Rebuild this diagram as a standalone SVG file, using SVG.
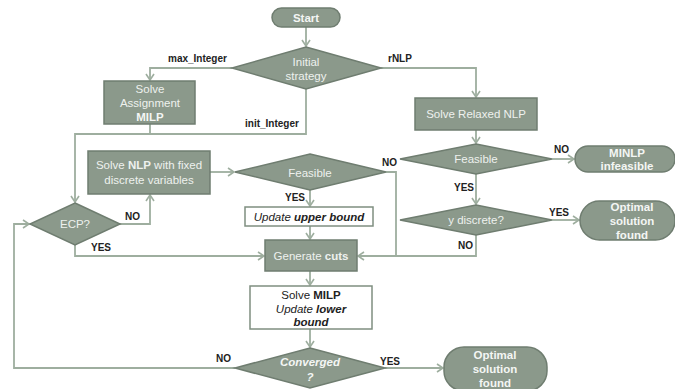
<svg xmlns="http://www.w3.org/2000/svg" width="675" height="389" viewBox="0 0 675 389">
<defs>
<style>
.n{fill:#8b998b;stroke:#6f7d70;stroke-width:1.5}
.w{fill:#ffffff;stroke:#7f8e80;stroke-width:1.5}
.c{fill:none;stroke:#9eae9f;stroke-width:1.8}
.t{font-family:"Liberation Sans",Arial,sans-serif;font-size:11.5px;fill:#eef1ee;text-anchor:middle}
.tb{font-family:"Liberation Sans",Arial,sans-serif;font-size:11.5px;fill:#f4f6f4;text-anchor:middle;font-weight:bold}
.k{font-family:"Liberation Sans",Arial,sans-serif;font-size:11.5px;fill:#222;text-anchor:middle}
.l{font-family:"Liberation Sans",Arial,sans-serif;font-size:10px;fill:#222;font-weight:bold}
</style>
<marker id="a" markerWidth="10" markerHeight="10" refX="8" refY="5" orient="auto" markerUnits="userSpaceOnUse">
<polyline points="2,1 8,5 2,9" fill="none" stroke="#9eae9f" stroke-width="1.6"/>
</marker>
</defs>
<g id="connectors">
<path class="c" d="M306,27 V46" marker-end="url(#a)"/>
<path class="c" d="M232,68 H150 V80" marker-end="url(#a)"/>
<path class="c" d="M381,68 H476 V97" marker-end="url(#a)"/>
<path class="c" d="M306,89 V134 H75 V202" marker-end="url(#a)"/>
<path class="c" d="M150,124 V134"/>
<path class="c" d="M476,130 V143" marker-end="url(#a)"/>
<path class="c" d="M552,159 H574" marker-end="url(#a)"/>
<path class="c" d="M476,174 V204" marker-end="url(#a)"/>
<path class="c" d="M552,220 H579" marker-end="url(#a)"/>
<path class="c" d="M476,235 V256 H358" marker-end="url(#a)"/>
<path class="c" d="M386,172 H396 V256"/>
<path class="c" d="M210,172 H234" marker-end="url(#a)"/>
<path class="c" d="M310,190 V206" marker-end="url(#a)"/>
<path class="c" d="M310,226 V239" marker-end="url(#a)"/>
<path class="c" d="M310,271 V285" marker-end="url(#a)"/>
<path class="c" d="M310,329 V347" marker-end="url(#a)"/>
<path class="c" d="M235,368 H14 V224 H29" marker-end="url(#a)"/>
<path class="c" d="M385,368 H443" marker-end="url(#a)"/>
<path class="c" d="M120,224 H150 V195" marker-end="url(#a)"/>
<path class="c" d="M75,245 V256 H264" marker-end="url(#a)"/>
<text class="l" x="168" y="62">max_Integer</text>
<text class="l" x="388" y="62">rNLP</text>
<text class="l" x="245" y="127">init_Integer</text>
<text class="l" x="554" y="153">NO</text>
<text class="l" x="454" y="191">YES</text>
<text class="l" x="549" y="216">YES</text>
<text class="l" x="458" y="249">NO</text>
<text class="l" x="382" y="166">NO</text>
<text class="l" x="285" y="201">YES</text>
<text class="l" x="125" y="220">NO</text>
<text class="l" x="91" y="251">YES</text>
<text class="l" x="216" y="362">NO</text>
<text class="l" x="380" y="365">YES</text>
</g>
<g id="start">
<rect class="n" x="272" y="8" width="68" height="19" rx="9.5"/>
<text class="tb" x="306" y="22">Start</text>
</g>
<g id="initial-strategy">
<polygon class="n" points="306,47 381,68 306,89 232,68"/>
<text class="t" x="306" y="66">Initial</text>
<text class="t" x="306" y="80">strategy</text>
</g>
<g id="solve-assignment">
<rect class="n" x="104" y="81" width="91" height="43"/>
<text class="t" x="150" y="93">Solve</text>
<text class="t" x="150" y="107">Assignment</text>
<text class="tb" x="150" y="121">MILP</text>
</g>
<g id="solve-relaxed">
<rect class="n" x="415" y="98" width="122" height="32"/>
<text class="t" x="476" y="118">Solve Relaxed NLP</text>
</g>
<g id="feasible-right">
<polygon class="n" points="476,144 552,159 476,174 400,159"/>
<text class="t" x="476" y="163">Feasible</text>
</g>
<g id="minlp-infeasible">
<rect class="n" x="575" y="146" width="100" height="26" rx="13"/>
<text class="tb" x="627" y="157">MINLP</text>
<text class="tb" x="627" y="170">infeasible</text>
</g>
<g id="y-discrete">
<polygon class="n" points="476,205 552,220 476,235 400,220"/>
<text class="t" x="476" y="224">y discrete?</text>
</g>
<g id="optimal-1">
<rect class="n" x="580" y="201" width="95" height="39" rx="19.5"/>
<text class="tb" x="632" y="211">Optimal</text>
<text class="tb" x="632" y="225">solution</text>
<text class="tb" x="632" y="239">found</text>
</g>
<g id="solve-nlp">
<rect class="n" x="88" y="151" width="122" height="43"/>
<text class="t" x="149" y="169">Solve <tspan font-weight="bold">NLP</tspan> with fixed</text>
<text class="t" x="149" y="184">discrete variables</text>
</g>
<g id="feasible-left">
<polygon class="n" points="310,154 386,172 310,190 235,172"/>
<text class="t" x="310" y="177">Feasible</text>
</g>
<g id="update-upper">
<rect class="w" x="245" y="207" width="128" height="19"/>
<text class="k" x="309" y="221"><tspan font-style="italic">Update </tspan><tspan font-style="italic" font-weight="bold">upper bound</tspan></text>
</g>
<g id="ecp">
<polygon class="n" points="75,203 120,224 75,245 30,224"/>
<text class="t" x="75" y="228">ECP?</text>
</g>
<g id="generate-cuts">
<rect class="n" x="265" y="240" width="92" height="31"/>
<text class="t" x="311" y="260">Generate <tspan font-weight="bold">cuts</tspan></text>
</g>
<g id="solve-milp">
<rect class="w" x="250" y="286" width="122" height="43"/>
<text class="k" x="311" y="299">Solve <tspan font-weight="bold">MILP</tspan></text>
<text class="k" x="311" y="313"><tspan font-style="italic">Update </tspan><tspan font-style="italic" font-weight="bold">lower</tspan></text>
<text class="k" x="311" y="326" font-style="italic" font-weight="bold">bound</text>
</g>
<g id="converged">
<polygon class="n" points="310,348 385,368 310,388 235,368"/>
<text class="tb" x="310" y="366" font-style="italic">Converged</text>
<text class="tb" x="310" y="381" font-style="italic">?</text>
</g>
<g id="optimal-2">
<rect class="n" x="444" y="347" width="103" height="44" rx="20"/>
<text class="tb" x="495" y="359">Optimal</text>
<text class="tb" x="495" y="373">solution</text>
<text class="tb" x="495" y="387">found</text>
</g>
</svg>
